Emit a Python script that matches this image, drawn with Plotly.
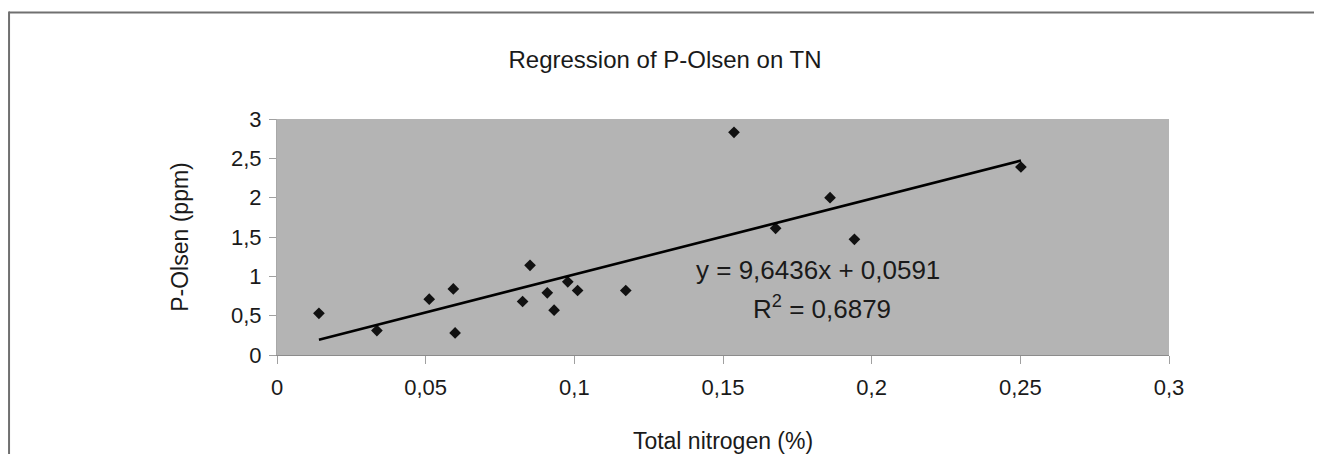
import plotly.graph_objects as go

# Data
total_nitrogen = [0.0141, 0.0336, 0.0512, 0.0593, 0.0599, 0.0826, 0.0851, 0.0909,
                  0.0932, 0.0978, 0.1011, 0.1173, 0.1537, 0.1677, 0.1860, 0.1942, 0.2502]
p_olsen = [0.53, 0.31, 0.71, 0.84, 0.28, 0.68, 1.14, 0.79,
           0.57, 0.93, 0.82, 0.82, 2.83, 1.61, 2.00, 1.47, 2.39]

# Regression coefficients as printed on the chart
slope = 9.6436
intercept = 0.0591
r_squared = 0.6879

x_ticks = [0, 0.05, 0.1, 0.15, 0.2, 0.25, 0.3]
y_ticks = [0, 0.5, 1, 1.5, 2, 2.5, 3]

x_line = [min(total_nitrogen), max(total_nitrogen)]
y_line = [slope * v + intercept for v in x_line]

FONT = "Liberation Sans, Arial, sans-serif"
TXT = "#1a1a1a"
FRAME = "#707070"

W, H = 1314, 446  # page has an 8px body margin

fig = go.Figure()
fig.add_trace(go.Scatter(
    x=total_nitrogen, y=p_olsen, mode="markers",
    marker=dict(symbol="diamond", size=9, color="#111111"),
    showlegend=False, hoverinfo="x+y"))
fig.add_trace(go.Scatter(
    x=x_line, y=y_line, mode="lines",
    line=dict(color="#000000", width=2.6),
    showlegend=False, hoverinfo="skip"))

def fmt(v):
    return f"{v:.4f}".replace(".", ",")

fig.add_annotation(x=0.182, y=1.08, xref="x", yref="y", showarrow=False,
                   text=f"y = {fmt(slope)}x + {fmt(intercept)}",
                   font=dict(family=FONT, size=26, color=TXT))
fig.add_annotation(x=0.1833, y=0.60, xref="x", yref="y", showarrow=False,
                   text=f"R<sup>2</sup> = {fmt(r_squared)}",
                   font=dict(family=FONT, size=26, color=TXT))

# outer frame (top and left edges)
fig.add_shape(type="line", xref="paper", yref="paper",
              x0=-0.3004, x1=1.25, y0=1.451, y1=1.451,
              line=dict(color=FRAME, width=2))
fig.add_shape(type="line", xref="paper", yref="paper",
              x0=-0.3004, x1=-0.3004, y0=1.455, y1=-0.46,
              line=dict(color=FRAME, width=2))

fig.update_layout(
    width=W, height=H,
    margin=dict(l=269, r=153, t=111, b=99, autoexpand=False),
    paper_bgcolor="white", plot_bgcolor="#b4b4b4",
    separators=",.",
    font=dict(family=FONT, size=22, color=TXT),
    title=dict(text="Regression of P-Olsen on TN", x=657/W, y=1-52/H,
               xanchor="center", yanchor="middle",
               font=dict(family=FONT, size=24, color=TXT)),
    xaxis=dict(range=[0, 0.3], tickvals=x_ticks, showgrid=False, zeroline=False,
               automargin=False,
               showline=True, linecolor="#8c8c8c", linewidth=1,
               ticks="outside", ticklen=8, tickcolor="#a0a0a0",
               ticklabelstandoff=5,
               tickfont=dict(family=FONT, size=22, color=TXT),
               title=dict(text="Total nitrogen (%)", standoff=33,
                          font=dict(family=FONT, size=23, color=TXT))),
    yaxis=dict(range=[0, 3], tickvals=y_ticks, showgrid=False, zeroline=False,
               automargin=False,
               showline=True, linecolor="#a8a8a8", linewidth=1,
               ticks="outside", ticklen=7, tickcolor="#a0a0a0",
               ticklabelstandoff=3,
               tickfont=dict(family=FONT, size=22, color=TXT),
               title=dict(text="P-Olsen (ppm)", standoff=35,
                          font=dict(family=FONT, size=23, color=TXT))),
)

fig.write_html("out.html")
